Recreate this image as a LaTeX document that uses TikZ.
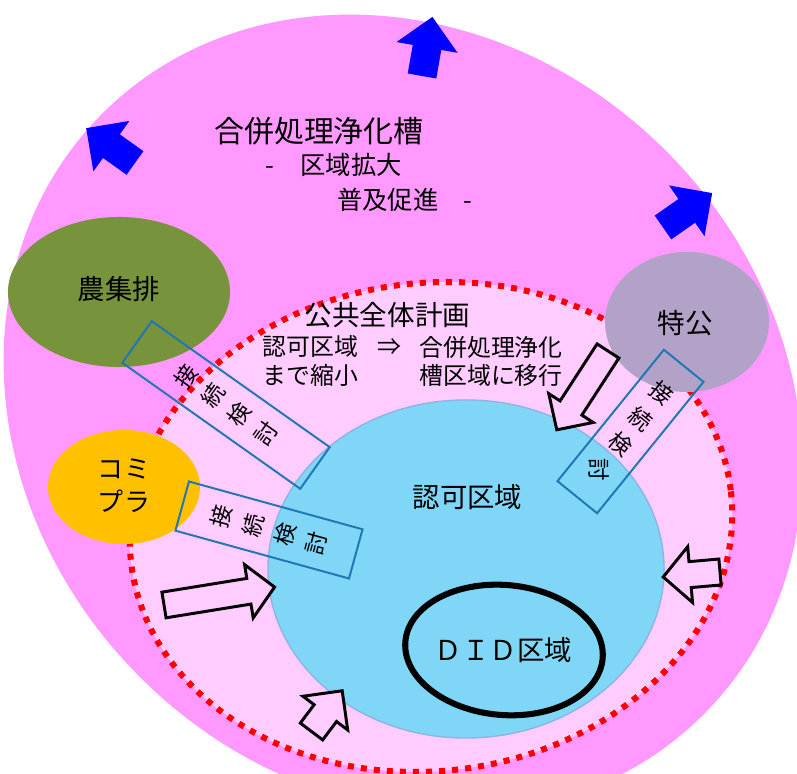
\documentclass[tikz,border=0pt]{standalone}
\usepackage{fontspec}
\setmainfont{Noto Sans CJK JP}
\usepackage{tikz}
\usetikzlibrary{calc,shapes.geometric}
\definecolor{outerpink}{HTML}{FF99FF}
\definecolor{innerpink}{HTML}{FFCCFF}
\definecolor{kyokablue}{HTML}{80D6F6}
\definecolor{kyokaedge}{HTML}{8EB4E3}
\definecolor{noshuolive}{HTML}{77933C}
\definecolor{komiorange}{HTML}{FFC000}
\definecolor{tokkogrey}{HTML}{B2A2C7}
\definecolor{linkblue}{HTML}{2077B4}
\def\blockarrow[#1](#2)(#3:#4:#5:#6:#7){\draw[#1,shift={(#2)},rotate=#3] (0,-#5) -- ({#4-#7},-#5) -- ({#4-#7},-#6) -- (#4,0) -- ({#4-#7},#6) -- ({#4-#7},#5) -- (0,#5) -- cycle;}

\begin{document}
\begin{tikzpicture}[x=0.025cm, y=0.025cm,
		bluearrow/.style={fill=blue, draw=none},
		hollowarrow/.style={fill=innerpink, draw=black, line width=2.1pt},
		area/.style={ellipse, inner sep=0pt, font=\fontsize{19.5pt}{23.5pt}\selectfont, align=center},
		linkbox/.style={rectangle, draw=linkblue, line width=1.4pt, minimum height=1.275cm, inner sep=0pt},
		linkchar/.style={inner sep=0pt, font=\fontsize{16pt}{16pt}\selectfont}]
		%%%%% START %%%%%
		\useasboundingbox (0,0) rectangle (797,774);
		\clip (0,0) rectangle (797,774);
		
		% gappei area
		\fill[outerpink, rotate around={-45:(403,360)}] (403,360) ellipse [x radius=425, y radius=372];
		
		% koukyou zentai keikaku
		\draw[fill=innerpink, draw=red, line width=4.3pt, dash pattern=on 4.3pt off 5pt, rotate around={7:(431,247)}] (431,247) ellipse [x radius=302, y radius=244];
		
		\node[area, fill=kyokablue, draw=kyokaedge, line width=1pt, minimum width=9.9cm, minimum height=8.45cm] (kyoka) at (466,205) {};
		\draw[line width=4.3pt, rotate around={-5:(504,124)}] (504,124) ellipse [x radius=99, y radius=65];
		
		\node[area, fill=noshuolive, minimum width=5.55cm, minimum height=3.75cm] (noshu) at (119,482) {};
		\node[area, fill=komiorange, minimum width=3.8cm, minimum height=2.85cm] (komi) at (124,287) {};
		\node[area, fill=tokkogrey, minimum width=4.1cm, minimum height=3.5cm] (tokko) at (687,452) {};
		
		% setsuzoku kentou
		\node[linkbox, minimum width=5.45cm, rotate=-35.3] (linka) at (226,369) {};
		\foreach \ch [count=\i] in {接,続,検,討}
			\node[linkchar, rotate=54.7] (linka\i) at ($(linka.center)+(-35.3:{(\i-2.5)*33})$) {\ch};
		\node[linkbox, minimum width=4.5cm, rotate=-15.4] (linkb) at (269,244) {};
		\foreach \ch [count=\i] in {接,続,検,討}
			\node[linkchar, rotate=74.6] (linkb\i) at ($(linkb.center)+(-15.4:{(\i-2.5)*33})$) {\ch};
		\node[linkbox, minimum width=4.225cm, rotate=51] (linkc) at (630.5,342.5) {};
		\foreach \ch/\r [count=\i] in {接/-39,続/-39,検/-39,討/-90}
			\node[linkchar, rotate=\r] (linkc\i) at ($(linkc.center)+(231:{(\i-2.5)*33})$) {\ch};
		
		% shukushou arrows
		\blockarrow[hollowarrow](608,423)(237:94:13:26.5:26)
		\blockarrow[hollowarrow](164,169)(9.2:112:13:27:26)
		\blockarrow[hollowarrow](311.5,42.5)(53:51:14:28:28)
		\blockarrow[hollowarrow](720,202)(185:57:13:28:27)
		
		% kakudai arrows
		\blockarrow[bluearrow](422,698)(80:60:14.5:31:31)
		\blockarrow[bluearrow](135,611)(144.5:60:14.5:31:31)
		\blockarrow[bluearrow](663,546.5)(35:60:14.5:31:31)
		
		% labels
		\node[font=\fontsize{21.3pt}{24pt}\selectfont] (title) at (319,643) {合併処理浄化槽};
		\node[font=\fontsize{18pt}{20pt}\selectfont, anchor=west, inner sep=0pt] (titleb) at (265,609) {-\hspace{1.05em}区域拡大};
		\node[font=\fontsize{18pt}{20pt}\selectfont, anchor=west, inner sep=0pt] (titlec) at (337,574) {普及促進\hspace{1em}-};
		
		\node[font=\fontsize{19.6pt}{22pt}\selectfont] (plan) at (387.5,459) {公共全体計画};
		\node[font=\fontsize{17pt}{20pt}\selectfont, align=left] (shrink) at (310.5,413) {認可区域\\まで縮小};
		\node[font=\fontsize{17pt}{20pt}\selectfont] (implies) at (389,427) {⇒};
		\node[font=\fontsize{17pt}{20pt}\selectfont, align=left] (shift) at (491,413) {合併処理浄化\\槽区域に移行};
		
		\node[font=\fontsize{19.5pt}{22pt}\selectfont] (kyokatxt) at (467.5,277) {認可区域};
		\node[font=\fontsize{19.5pt}{22pt}\selectfont] (did) at (503.5,124) {ＤＩＤ区域};
		\node[font=\fontsize{19.5pt}{22pt}\selectfont] (noshutxt) at (119,485) {農集排};
		\node[font=\fontsize{18.5pt}{23.5pt}\selectfont, align=center] (komitxt) at (124,288) {コミ\\プラ};
		\node[font=\fontsize{19.6pt}{22pt}\selectfont] (tokkotxt) at (685.5,451) {特公};
		%%%%% END %%%%%
	\end{tikzpicture}
\end{document}
